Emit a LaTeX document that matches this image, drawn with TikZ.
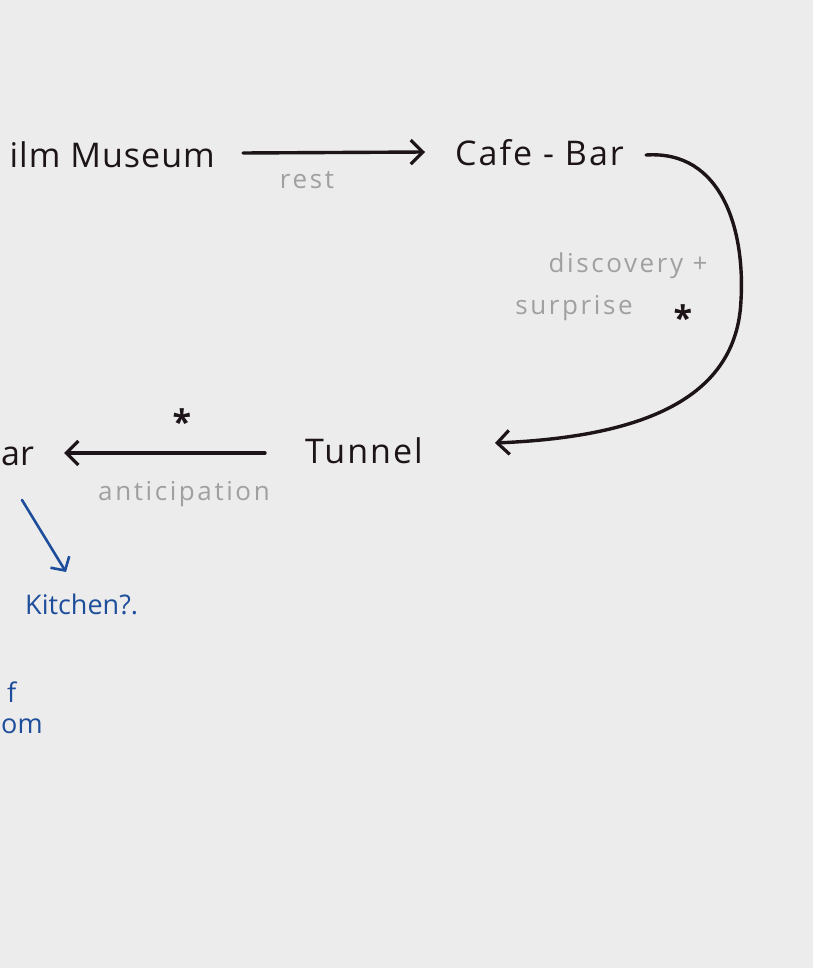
\documentclass[tikz,border=0pt]{standalone}
\usepackage{fontspec}
\setmainfont{Open Sans}
\usetikzlibrary{arrows.meta}
\definecolor{paper}{RGB}{236,236,236}
\definecolor{ink}{RGB}{28,20,24}
\definecolor{pencil}{RGB}{160,160,160}
\definecolor{pen}{RGB}{30,78,155}
\tikzset{
  place/.style={inner sep=0pt, text=ink, font=\fontsize{34}{36}\selectfont},
  note/.style={inner sep=0pt, text=pencil, font=\fontsize{26}{28}\selectfont\addfontfeature{LetterSpace=10}},
  bluenote/.style={inner sep=0pt, text=pen, font=\fontsize{27}{29}\selectfont},
  star/.style={inner sep=0pt, text=ink, font=\fontsize{34}{34}\selectfont\bfseries},
  link/.style={draw=ink, line width=3.4pt, line cap=round, -{Straight Barb[length=12pt,width=24pt,line width=3.2pt]}},
  bluelink/.style={draw=pen, line width=2.6pt, line cap=round, -{Straight Barb[length=10pt,width=22pt,line width=2.6pt]}}
}
\begin{document}
\begin{tikzpicture}[x=1pt,y=-1pt]
\fill[paper] (0,0) rectangle (813,968);
\useasboundingbox (0,0) rectangle (813,968);
% places
\node[place, anchor=base east, font=\fontsize{34}{36}\selectfont\addfontfeature{LetterSpace=3}] (museum) at (215,168) {ilm Museum};
\node[place, anchor=base west, font=\fontsize{34}{36}\selectfont\addfontfeature{LetterSpace=6}] (cafe) at (455,166) {Cafe - Bar};
\node[place, anchor=base west, font=\fontsize{34}{36}\selectfont\addfontfeature{LetterSpace=6}] (tunnel) at (305,463) {Tunnel};
\node[place, anchor=base west] (bar) at (1,465) {ar};
\node[bluenote, anchor=base west] (kitchen) at (25,614) {Kitchen?.};
\node[bluenote, anchor=base west] (of) at (7,702) {f};
\node[bluenote, anchor=base west] (room) at (1,733) {om};
% labels
\node[note] (rest) at (307,180) {rest};
\node[note] (disc) at (628,266) {discovery +};
\node[note] (surp) at (574,308) {surprise};
\node[star] (star1) at (683,318) {*};
\node[star] (star2) at (182,422) {*};
\node[note] (antic) at (184,494) {anticipation};
% connector end points
\coordinate (m1) at (museum.east |- 0,153);
\coordinate (c0) at (cafe.west |- 0,152);
\coordinate (c1) at (cafe.east |- 0,155);
\coordinate (t1) at (tunnel.west |- 0,443);
\coordinate (t2) at (tunnel.west |- 0,453);
\coordinate (b1) at (bar.east |- 0,453);
\coordinate (k0) at (22,500);
\coordinate (k1) at (66,572);
% connectors
\draw[link] ([xshift=28pt]m1) -- ([xshift=-30pt]c0);
\draw[link] ([xshift=22pt]c1) .. controls (722,150) and (745,230) .. (741,300)
  .. controls (737,400) and (640,437) .. ([xshift=190pt]t1);
\draw[link] ([xshift=-40pt]t2) -- ([xshift=30pt]b1);
\draw[bluelink] (k0) -- (k1);
\end{tikzpicture}
\end{document}
